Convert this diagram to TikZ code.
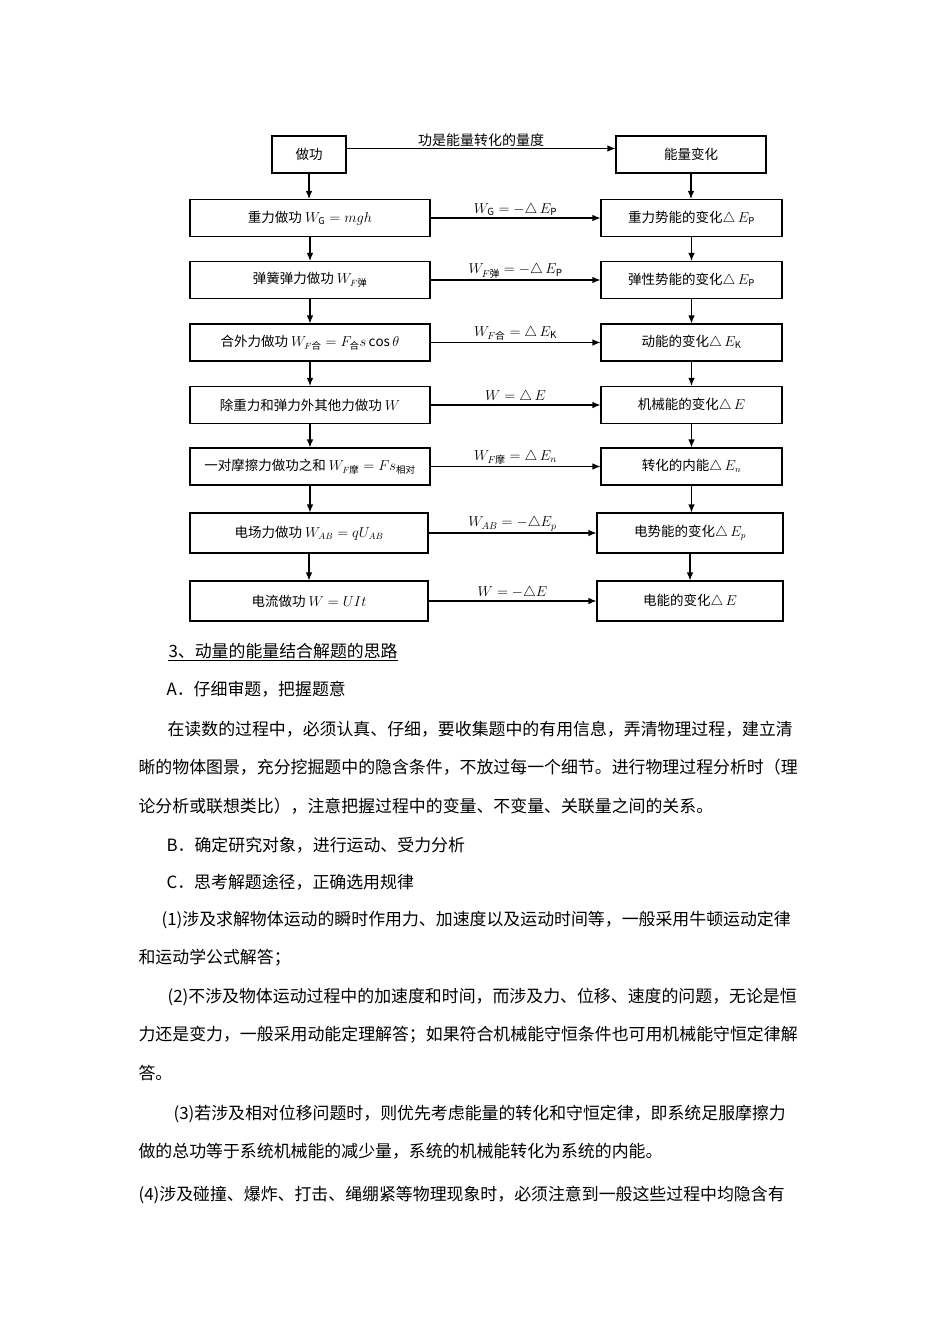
\documentclass[tikz,border=0pt]{standalone}
\usepackage{amsmath}
\usepackage{fontspec}
\setmainfont{Noto Sans CJK SC}
\usetikzlibrary{arrows.meta}

\begin{document}
\begin{tikzpicture}[x=1pt,y=-1pt,>={Latex[length=8pt,width=6.5pt]},line width=1.1pt,
  kbox/.style={draw,minimum height=37pt,inner sep=0pt,font=\fontsize{13.5}{16}\selectfont},
  lbox/.style={kbox,minimum width=240pt},
  rbox/.style={kbox,minimum width=181pt},
  lab/.style={font=\fontsize{14}{16}\selectfont,inner sep=1.5pt},
  para/.style={anchor=west,inner sep=0pt,font=\fontsize{16.9}{20}\selectfont}]
\fill[white] (0,0) rectangle (950,1344);
\useasboundingbox (0,0) rectangle (950,1344);
\node[kbox,minimum width=74pt] (zg) at (309,154.5) {做功};
\node[kbox,minimum width=150pt] (nl) at (691,154.5) {能量变化};
\node[lbox] (l1) at (310,218) {重力做功 $W_{\mathrm G}=mgh$};
\node[lbox] (l2) at (310,280) {弹簧弹力做功 $W_{F\text{弹}}$};
\node[lbox] (l3) at (310,342.5) {合外力做功 $W_{F\text{合}}=F_{\text{合}}s\cos\theta$};
\node[lbox] (l4) at (310,405) {除重力和弹力外其他力做功 $W$};
\node[lbox] (l5) at (310,466.5) {一对摩擦力做功之和 $W_{F\text{摩}}=Fs_{\text{相对}}$};
\node[lbox,minimum width=238pt,minimum height=40pt] (l6) at (309,533) {电场力做功 $W_{AB}=qU_{AB}$};
\node[lbox,minimum width=238pt,minimum height=40pt] (l7) at (309,601) {电流做功 $W=UIt$};
\node[rbox] (r1) at (691.5,218) {重力势能的变化$\triangle\,E_{\mathrm P}$};
\node[rbox] (r2) at (691.5,280) {弹性势能的变化$\triangle\,E_{\mathrm P}$};
\node[rbox] (r3) at (691.5,342.5) {动能的变化$\triangle\,E_{\mathrm K}$};
\node[rbox] (r4) at (691.5,405) {机械能的变化$\triangle\,E$};
\node[rbox] (r5) at (691.5,466.5) {转化的内能$\triangle\,E_n$};
\node[rbox,minimum width=186pt,minimum height=40pt] (r6) at (690,533) {电势能的变化$\triangle\,E_p$};
\node[rbox,minimum width=186pt,minimum height=40pt] (r7) at (690,601) {电能的变化$\triangle\,E$};
\draw[->] ([yshift=6pt]zg.east) -- ([yshift=6pt]nl.west) node[midway,above,font=\fontsize{14}{16}\selectfont,inner sep=1pt] {功是能量转化的量度};
\draw[->] (l1) -- (r1) node[lab,midway,above] {$W_{\mathrm G}=-\triangle\,E_{\mathrm P}$};
\draw[->] (l2) -- (r2) node[lab,midway,above] {$W_{F\text{弹}}=-\triangle\,E_{\mathrm P}$};
\draw[->] (l3) -- (r3) node[lab,midway,above] {$W_{F\text{合}}=\triangle\,E_{\mathrm K}$};
\draw[->] (l4) -- (r4) node[lab,midway,above] {$W=\triangle\,E$};
\draw[->] (l5) -- (r5) node[lab,midway,above] {$W_{F\text{摩}}=\triangle\,E_n$};
\draw[->] (l6) -- (r6) node[lab,midway,above] {$W_{AB}=-\triangle E_p$};
\draw[->] (l7) -- (r7) node[lab,midway,above] {$W=-\triangle E$};
\draw[->] (zg) -- (zg |- l1.north);
\draw[->] (l1) -- (l1 |- l2.north);
\draw[->] (l2) -- (l2 |- l3.north);
\draw[->] (l3) -- (l3 |- l4.north);
\draw[->] (l4) -- (l4 |- l5.north);
\draw[->] (l5) -- (l5 |- l6.north);
\draw[->] (l6) -- (l6 |- l7.north);
\draw[->] (nl) -- (nl |- r1.north);
\draw[->] (r1) -- (r1 |- r2.north);
\draw[->] (r2) -- (r2 |- r3.north);
\draw[->] (r3) -- (r3 |- r4.north);
\draw[->] (r4) -- (r4 |- r5.north);
\draw[->] (r5) -- (r5 |- r6.north);
\draw[->] (r6) -- (r6 |- r7.north);
\node[para] (p1) at (168,651) {3、动量的能量结合解题的思路};
\draw[line width=0.8pt] ([yshift=-1pt]p1.south west) -- ([yshift=-1pt]p1.south east);
\node[para] (p2) at (166,689) {A．仔细审题，把握题意};
\node[para] (p3) at (167,729) {在读数的过程中，必须认真、仔细，要收集题中的有用信息，弄清物理过程，建立清};
\node[para] (p4) at (138,767) {晰的物体图景，充分挖掘题中的隐含条件，不放过每一个细节。进行物理过程分析时（理};
\node[para] (p5) at (138,806) {论分析或联想类比），注意把握过程中的变量、不变量、关联量之间的关系。};
\node[para] (p6) at (166,845) {B．确定研究对象，进行运动、受力分析};
\node[para] (p7) at (166,882) {C．思考解题途径，正确选用规律};
\node[para] (p8) at (161,920) {(1)涉及求解物体运动的瞬时作用力、加速度以及运动时间等，一般采用牛顿运动定律};
\node[para] (p9) at (138,958) {和运动学公式解答；};
\node[para] (p10) at (167,997) {(2)不涉及物体运动过程中的加速度和时间，而涉及力、位移、速度的问题，无论是恒};
\node[para] (p11) at (138,1035) {力还是变力，一般采用动能定理解答；如果符合机械能守恒条件也可用机械能守恒定律解};
\node[para] (p12) at (138,1073) {答。};
\node[para] (p13) at (173,1114) {(3)若涉及相对位移问题时，则优先考虑能量的转化和守恒定律，即系统足服摩擦力};
\node[para] (p14) at (138,1151) {做的总功等于系统机械能的减少量，系统的机械能转化为系统的内能。};
\node[para] (p15) at (138,1195) {(4)涉及碰撞、爆炸、打击、绳绷紧等物理现象时，必须注意到一般这些过程中均隐含有};
\end{tikzpicture}
\end{document}
